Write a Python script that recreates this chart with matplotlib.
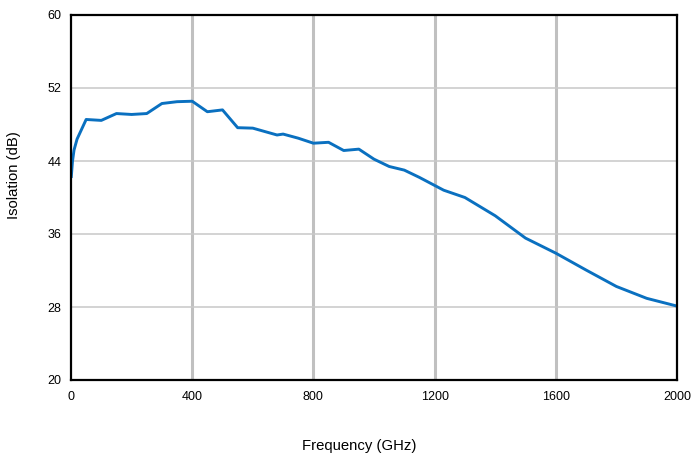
import matplotlib
matplotlib.use("Agg")
import matplotlib.pyplot as plt

freq_ghz = [1, 5, 10, 20, 50, 100, 150, 200, 250, 300, 350, 400, 450, 500,
            550, 600, 680, 700, 750, 800, 850, 900, 950, 1000, 1050, 1100,
            1150, 1230, 1300, 1400, 1500, 1600, 1700, 1800, 1900, 2000]
isolation_db = [42.3, 44.0, 45.2, 46.4, 48.55, 48.45, 49.2, 49.1, 49.2, 50.3,
                50.5, 50.55, 49.4, 49.6, 47.65, 47.6, 46.85, 46.95, 46.5,
                45.95, 46.05, 45.15, 45.3, 44.2, 43.4, 43.0, 42.2, 40.8,
                40.0, 38.0, 35.55, 33.9, 32.05, 30.25, 28.95, 28.1]

x_ticks = [0, 400, 800, 1200, 1600, 2000]
y_ticks = [20, 28, 36, 44, 52, 60]

plt.rcParams["font.family"] = ["Liberation Sans", "DejaVu Sans"]

fig = plt.figure(figsize=(6.92, 4.58), dpi=100)
ax = fig.add_axes([71 / 692, 78 / 458, 606 / 692, 365 / 458])

ax.plot(freq_ghz, isolation_db, color="#0a70c0", linewidth=2.1, zorder=3)

ax.set_xlim(0, 2000)
ax.set_ylim(20, 60)
ax.set_xticks(x_ticks)
ax.set_yticks(y_ticks)

for x in x_ticks[1:-1]:
    ax.axvline(x, color="#c0c0c0", linewidth=2.2, zorder=1)
for y in y_ticks[1:-1]:
    ax.axhline(y, color="#c8c8c8", linewidth=1.1, zorder=1)

for s in ax.spines.values():
    s.set_linewidth(1.6)
    s.set_color("black")
    s.set_zorder(4)

ax.tick_params(axis="both", length=0, labelsize=9)
ax.tick_params(axis="x", pad=8)
ax.tick_params(axis="y", pad=7)

ax.set_xlabel("Frequency (GHz)", fontsize=10.7)
ax.set_ylabel("Isolation (dB)", fontsize=10.7)
ax.xaxis.label.set_va("center")
ax.yaxis.label.set_va("center")
ax.xaxis.set_label_coords(0.475, -0.182)
ax.yaxis.set_label_coords(-0.094, 0.56)

fig.savefig("out.png", dpi=100)
